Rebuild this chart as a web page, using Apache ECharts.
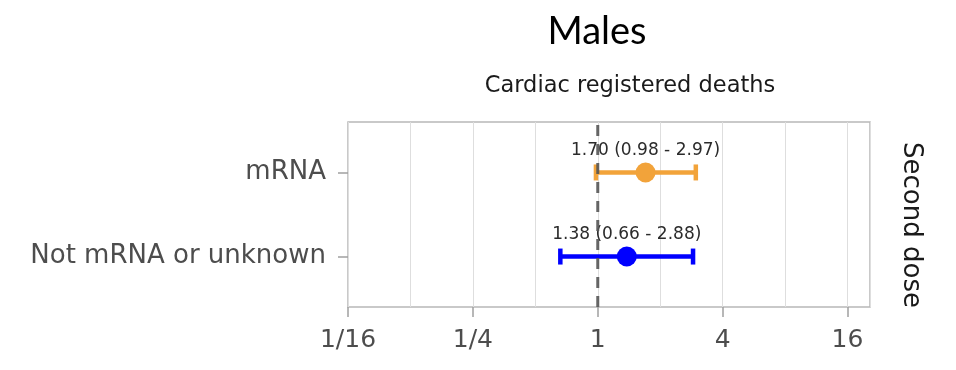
<!DOCTYPE html>
<html>
<head>
<meta charset="utf-8">
<script src="https://cdn.jsdelivr.net/npm/echarts@6/dist/echarts.min.js"></script>
<style>
  html, body { margin: 0; padding: 0; background: #ffffff; }
  #chart { width: 956px; height: 370px; }
</style>
</head>
<body>
<div id="chart"></div>
<script>
// ---- data (bottom to top) ----
const categories = ['Not mRNA or unknown', 'mRNA'];
const estimates = [1.38, 1.70];
const lowerCI = [0.66, 0.98];
const upperCI = [2.88, 2.97];
const seriesColors = ['#0000FF', '#F2A33A'];
const tickValues = [1/16, 1/4, 1, 4, 16];
const tickLabels = ['1/16', '1/4', '1', '4', '16'];
const refValue = 1;
const titleText = 'Males';
const subtitleText = 'Cardiac registered deaths';
const stripText = 'Second dose';

// ---- helpers ----
const log2 = v => Math.log(v) / Math.LN2;
const xMin = log2(1/16);
const xMax = log2(16) + 0.36;
const yMin = 0.4, yMax = 2.6;
const yPos = categories.map((c, i) => i + 1);
const labelFor = i => `${estimates[i].toFixed(2)} (${lowerCI[i].toFixed(2)} - ${upperCI[i].toFixed(2)})`;
const tickLog = tickValues.map(log2);
const labelMap = {};
tickLog.forEach((v, i) => { labelMap[Math.round(v)] = tickLabels[i]; });

const errData = categories.map((c, i) => ({
  value: [log2(lowerCI[i]), log2(upperCI[i]), yPos[i]],
  itemStyle: { color: seriesColors[i] }
}));
const ptData = categories.map((c, i) => ({
  value: [log2(estimates[i]), yPos[i]],
  itemStyle: { color: seriesColors[i], opacity: 1 },
  label: { formatter: labelFor(i) }
}));

const chart = echarts.init(document.getElementById('chart'), null, { renderer: 'canvas' });
chart.setOption({
  animation: false,
  backgroundColor: '#ffffff',
  grid: {
    left: 348, right: 86, top: 122, bottom: 63,
    show: true, borderColor: '#b8b8b8', borderWidth: 1.5,
    backgroundColor: 'transparent',
    outerBoundsMode: 'none'
  },
  xAxis: [
    {
      type: 'value', min: xMin, max: xMax, interval: 1,
      position: 'bottom',
      axisLine: { show: false, onZero: false }, axisTick: { show: false }, axisLabel: { show: false },
      splitLine: { show: true, lineStyle: { color: '#dedede', width: 1 } }
    },
    {
      type: 'value', min: xMin, max: xMax, interval: 2,
      position: 'bottom',
      axisLine: { show: false, onZero: false },
      axisTick: { show: true, length: 10, customValues: tickLog, lineStyle: { color: '#a0a0a0', width: 1.5 } },
      axisLabel: {
        show: true, customValues: tickLog, margin: 21,
        fontFamily: 'DejaVu Sans', fontSize: 25, color: '#4d4d4d',
        formatter: v => labelMap[Math.round(v)] || ''
      },
      splitLine: { show: false }
    }
  ],
  yAxis: {
    type: 'value', min: yMin, max: yMax,
    position: 'left',
    axisLine: { show: false, onZero: false },
    axisTick: { show: true, length: 10, customValues: yPos, lineStyle: { color: '#a0a0a0', width: 1.5 } },
    axisLabel: {
      show: true, customValues: yPos, margin: 22,
      fontFamily: 'DejaVu Sans', fontSize: 26, color: '#4d4d4d',
      formatter: v => categories[Math.round(v) - 1] || ''
    },
    splitLine: { show: false }
  },
  series: [
    {
      type: 'custom',
      xAxisIndex: 0,
      silent: true,
      data: errData,
      renderItem: (params, api) => {
        const lo = api.coord([api.value(0), api.value(2)]);
        const hi = api.coord([api.value(1), api.value(2)]);
        const color = api.visual('color');
        const cap = 8;
        const st = { stroke: color, lineWidth: 4.5 };
        return {
          type: 'group',
          children: [
            { type: 'line', shape: { x1: lo[0], y1: lo[1], x2: hi[0], y2: hi[1] }, style: st },
            { type: 'line', shape: { x1: lo[0], y1: lo[1] - cap, x2: lo[0], y2: lo[1] + cap }, style: st },
            { type: 'line', shape: { x1: hi[0], y1: hi[1] - cap, x2: hi[0], y2: hi[1] + cap }, style: st }
          ]
        };
      }
    },
    {
      type: 'scatter',
      xAxisIndex: 0,
      symbol: 'circle',
      symbolSize: 20,
      silent: true,
      data: ptData,
      label: {
        show: true, position: 'top', distance: 3,
        fontFamily: 'DejaVu Sans', fontSize: 17, color: '#2b2b2b'
      }
    },
    {
      type: 'line',
      xAxisIndex: 0,
      silent: true,
      z: 10,
      symbol: 'none',
      data: [[log2(refValue), yMin], [log2(refValue), yMax]],
      lineStyle: { color: '#555555', width: 3, type: [11, 8], opacity: 0.9 }
    }
  ],
  graphic: [
    {
      type: 'text', x: 597, y: 32,
      style: { text: titleText, fontFamily: 'Lato', fontSize: 38, fill: '#000000', align: 'center', verticalAlign: 'middle' }
    },
    {
      type: 'text', x: 630, y: 86,
      style: { text: subtitleText, fontFamily: 'DejaVu Sans', fontSize: 22.5, fill: '#1a1a1a', align: 'center', verticalAlign: 'middle' }
    },
    {
      type: 'text', x: 911, y: 225, rotation: -Math.PI / 2,
      style: { text: stripText, fontFamily: 'DejaVu Sans', fontSize: 26, fill: '#1a1a1a', align: 'center', verticalAlign: 'middle' }
    }
  ]
});
</script>
</body>
</html>
